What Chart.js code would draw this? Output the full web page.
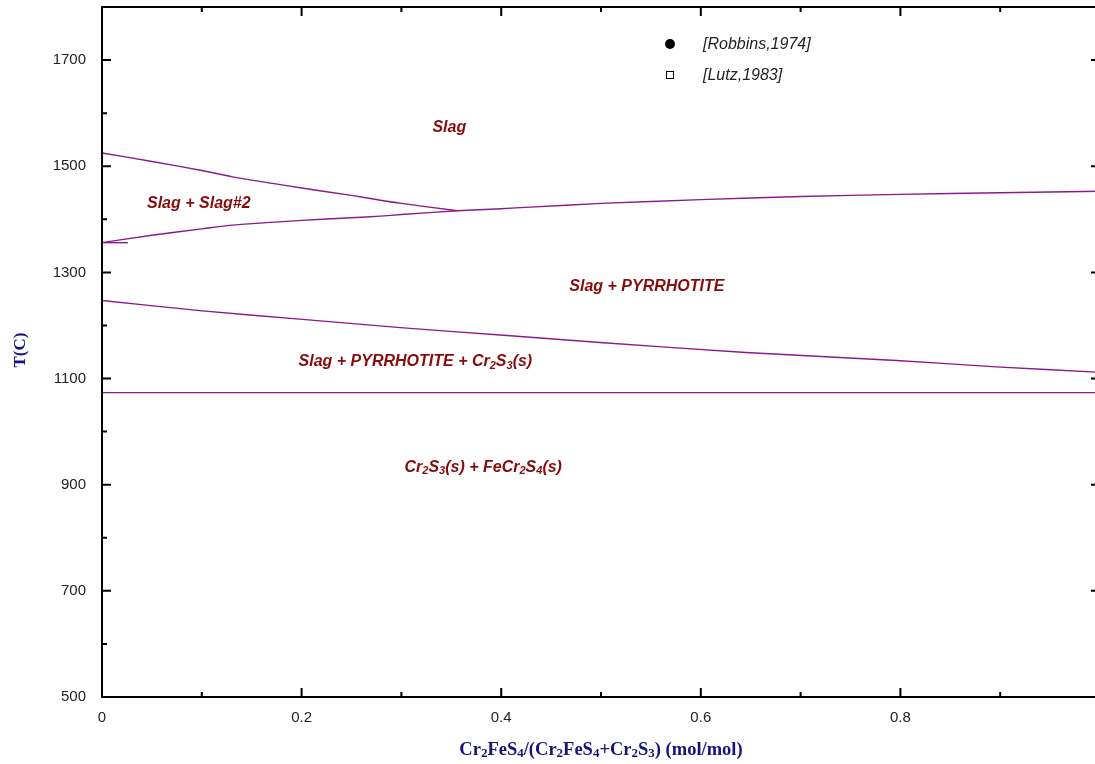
<!DOCTYPE html>
<html>
<head>
<meta charset="utf-8">
<script src="https://cdn.jsdelivr.net/npm/chart.js@4/dist/chart.umd.min.js"></script>
<style>
  html, body { margin: 0; padding: 0; background: #fff; overflow: hidden; }
  canvas { display: block; }
</style>
</head>
<body>
<canvas id="phaseChart" width="1102" height="764"></canvas>
<script>
// phase boundaries (x = mol fraction, T in C)
var slagTopX = [0, 0.05, 0.1, 0.131, 0.2, 0.25, 0.279, 0.3, 0.356];
var slagTopT = [1525, 1509, 1492, 1480, 1459, 1445, 1436, 1430, 1416];

var liquidusX = [0, 0.05, 0.1, 0.131, 0.2, 0.25, 0.279, 0.3, 0.356, 0.4, 0.429, 0.5, 0.6, 0.7, 0.8, 0.9, 1.0];
var liquidusT = [1356, 1370, 1382, 1389, 1398, 1403, 1406, 1409, 1416, 1420, 1423, 1430, 1437, 1443, 1447, 1450, 1453];

var monotecticX = [0, 0.026];
var monotecticT = [1356, 1356];

var pyrrhX = [0, 0.098, 0.198, 0.299, 0.399, 0.499, 0.645, 0.796, 0.896, 0.996];
var pyrrhT = [1247, 1228, 1212, 1196, 1182, 1168, 1149, 1134, 1122, 1112];

var eutecticX = [0, 1.0];
var eutecticT = [1073.5, 1073.5];

// region labels: [text parts, x, T]; parts marked 's' are subscripts
var regionLabels = [
    { parts: [['Slag']], x: 0.348, t: 1572 },
    { parts: [['Slag + Slag#2']], x: 0.097, t: 1429 },
    { parts: [['Slag + PYRRHOTITE']], x: 0.546, t: 1274 },
    { parts: [['Slag + PYRRHOTITE + Cr'], ['2', 's'], ['S'], ['3', 's'], ['(s)']], x: 0.314, t: 1131 },
    { parts: [['Cr'], ['2', 's'], ['S'], ['3', 's'], ['(s) + FeCr'], ['2', 's'], ['S'], ['4', 's'], ['(s)']], x: 0.382, t: 933 }
];

var legendNames = ['[Robbins,1974]', '[Lutz,1983]'];

var xTitle = [['Cr'], ['2', 's'], ['FeS'], ['4', 's'], ['/(Cr'], ['2', 's'], ['FeS'], ['4', 's'], ['+Cr'], ['2', 's'], ['S'], ['3', 's'], [') (mol/mol)']];

function toPoints(xs, ts) {
    return xs.map(function (x, i) { return { x: x, y: ts[i] }; });
}

var lineColor = '#8B1A8B';

function lineSet(xs, ts) {
    return {
        data: toPoints(xs, ts),
        showLine: true,
        borderColor: lineColor,
        borderWidth: 1.4,
        pointRadius: 0,
        tension: 0.25,
        fill: false
    };
}

function richWidth(ctx, parts, font, subFont) {
    var w = 0;
    parts.forEach(function (p) {
        ctx.font = p[1] === 's' ? subFont : font;
        w += ctx.measureText(p[0]).width;
    });
    return w;
}

function drawRich(ctx, parts, cx, cy, font, subFont, subShift) {
    var x = cx - richWidth(ctx, parts, font, subFont) / 2;
    ctx.textAlign = 'left';
    ctx.textBaseline = 'middle';
    parts.forEach(function (p) {
        ctx.font = p[1] === 's' ? subFont : font;
        ctx.fillText(p[0], x, p[1] === 's' ? cy + subShift : cy);
        x += ctx.measureText(p[0]).width;
    });
}

// keep the plot box fixed regardless of tick label sizes
function fixPadding(scale) {
    scale.paddingTop = 0;
    scale.paddingBottom = 0;
    scale.paddingLeft = 0;
    scale.paddingRight = 0;
}

var framePlugin = {
    id: 'frame',
    afterDraw: function (chart) {
        var ctx = chart.ctx;
        var a = chart.chartArea;
        var xs = chart.scales.x, ys = chart.scales.y;
        ctx.save();

        // ticks pointing inward on all four sides
        ctx.strokeStyle = '#000';
        ctx.lineWidth = 2;
        ctx.beginPath();
        for (var i = 0; i <= 10; i++) {
            var px = xs.getPixelForValue(i / 10);
            var len = i % 2 === 0 ? 9 : 5;
            ctx.moveTo(px, a.bottom); ctx.lineTo(px, a.bottom - len);
            ctx.moveTo(px, a.top); ctx.lineTo(px, a.top + len);
        }
        for (var v = 500; v <= 1800; v += 100) {
            var py = ys.getPixelForValue(v);
            var l2 = (v - 500) % 200 === 0 ? 9 : 5;
            ctx.moveTo(a.left, py); ctx.lineTo(a.left + l2, py);
            ctx.moveTo(a.right, py); ctx.lineTo(a.right - l2, py);
        }
        ctx.stroke();
        ctx.strokeRect(a.left, a.top, a.right - a.left, a.bottom - a.top);

        // region labels
        ctx.fillStyle = '#850C0C';
        regionLabels.forEach(function (lb) {
            drawRich(ctx, lb.parts, xs.getPixelForValue(lb.x), ys.getPixelForValue(lb.t),
                'italic bold 16px "Liberation Sans", Arial, sans-serif',
                'italic bold 11px "Liberation Sans", Arial, sans-serif', 4);
        });

        // legend
        ctx.fillStyle = '#000';
        ctx.beginPath();
        ctx.arc(670, 44, 5, 0, Math.PI * 2);
        ctx.fill();
        ctx.lineWidth = 1;
        ctx.strokeStyle = '#000';
        ctx.strokeRect(666.5, 71.5, 7, 7);
        ctx.font = 'italic 16px "Liberation Sans", Arial, sans-serif';
        ctx.textAlign = 'left';
        ctx.textBaseline = 'middle';
        ctx.fillStyle = '#222';
        ctx.fillText(legendNames[0], 703, 45);
        ctx.fillText(legendNames[1], 703, 76);

        // axis titles
        ctx.fillStyle = '#14147A';
        drawRich(ctx, xTitle, 601, 750,
            'bold 18.5px "Liberation Serif", "Times New Roman", serif',
            'bold 13px "Liberation Serif", "Times New Roman", serif', 4);
        ctx.translate(21, 350);
        ctx.rotate(-Math.PI / 2);
        ctx.font = 'bold 17px "Liberation Serif", "Times New Roman", serif';
        ctx.textAlign = 'center';
        ctx.textBaseline = 'middle';
        ctx.fillText('T(C)', 0, 0);
        ctx.restore();
    }
};

var ctx = document.getElementById('phaseChart').getContext('2d');
var phaseChart = new Chart(ctx, {
    type: 'scatter',
    data: {
        datasets: [
            lineSet(slagTopX, slagTopT),
            lineSet(liquidusX, liquidusT),
            lineSet(monotecticX, monotecticT),
            lineSet(pyrrhX, pyrrhT),
            lineSet(eutecticX, eutecticT)
        ]
    },
    options: {
        responsive: false,
        animation: false,
        devicePixelRatio: 1,
        layout: { padding: { top: 7, right: 2, left: 0, bottom: 0 } },
        plugins: {
            legend: { display: false },
            tooltip: { enabled: false }
        },
        scales: {
            x: {
                type: 'linear',
                min: 0,
                max: 1.0,
                grid: { display: false, drawTicks: false },
                border: { display: false },
                afterFit: function (scale) { scale.height = 67; fixPadding(scale); },
                ticks: {
                    stepSize: 0.1,
                    autoSkip: false,
                    maxRotation: 0,
                    padding: 12,
                    color: '#222',
                    font: { family: '"Liberation Sans", Arial, sans-serif', size: 15 },
                    callback: function (v) {
                        var n = Math.round(v * 10);
                        if (n % 2 !== 0 || n === 10) return '';
                        return n === 0 ? '0' : (n / 10).toFixed(1);
                    }
                }
            },
            y: {
                type: 'linear',
                min: 500,
                max: 1800,
                grid: { display: false, drawTicks: false },
                border: { display: false },
                afterFit: function (scale) { scale.width = 102; fixPadding(scale); },
                ticks: {
                    stepSize: 100,
                    autoSkip: false,
                    padding: 16,
                    color: '#222',
                    font: { family: '"Liberation Sans", Arial, sans-serif', size: 15 },
                    callback: function (v) {
                        return (v - 500) % 200 === 0 && v < 1800 ? String(v) : '';
                    }
                }
            }
        }
    },
    plugins: [framePlugin]
});
</script>
</body>
</html>
